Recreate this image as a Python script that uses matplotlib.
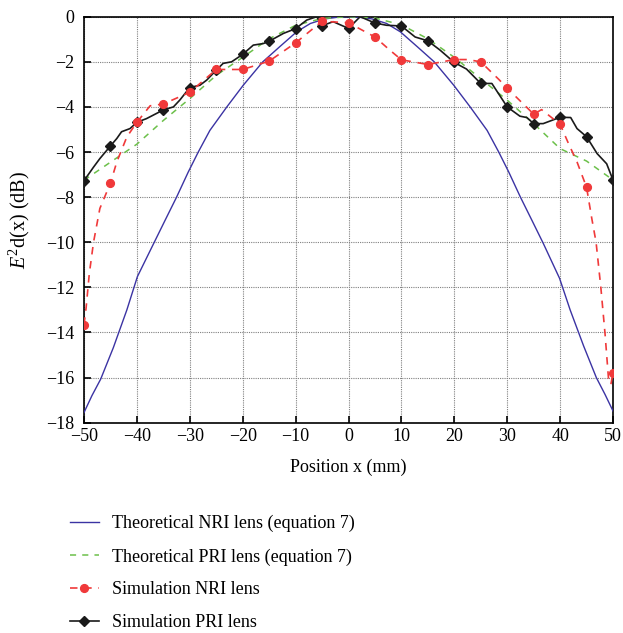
import matplotlib
matplotlib.use('Agg')
import numpy as np
import matplotlib.pyplot as plt

plt.rcParams['font.family'] = ['Liberation Serif', 'DejaVu Serif']
plt.rcParams['mathtext.fontset'] = 'custom'
plt.rcParams['mathtext.rm'] = 'Liberation Serif'
plt.rcParams['mathtext.it'] = 'Liberation Serif:italic'

# theoretical NRI lens (blue)
nri_theo_x = [-50, -48.5, -46.85, -44.45, -41.9, -39.9, -36.8, -34.7, -32.5, -30.3, -28.4, -26.2,
              -23.0, -19.9, -16.2, -13.0, -9.8, -7.2, -4.5, -2, 0, 2, 4.5, 7.2, 9.8, 13.0, 16.2,
              19.9, 23.0, 26.2, 28.4, 30.3, 32.5, 34.7, 36.8, 39.9, 41.9, 44.45, 46.85, 48.5, 50]
nri_theo_y = [-17.55, -16.8, -16.07, -14.67, -13.0, -11.52, -10.04, -9.04, -8.0, -6.89, -6.0, -5.04,
              -4.0, -3.04, -2.0, -1.33, -0.67, -0.3, -0.1, -0.02, 0.0, -0.02, -0.1, -0.3, -0.67,
              -1.33, -2.0, -3.04, -4.0, -5.04, -6.0, -6.89, -8.0, -9.04, -10.04, -11.6, -13.0,
              -14.6, -16.0, -16.75, -17.48]

# theoretical PRI lens (green)
pri_theo_x = [-50, -45, -40, -35, -30, -25, -20, -15, -10, -5, 0, 5, 10, 15, 20, 25, 30, 35, 40, 45, 50]
pri_theo_y = [-7.25, -6.45, -5.65, -4.6, -3.63, -2.6, -1.8, -0.98, -0.38, -0.08, 0.0, -0.06, -0.36,
              -0.98, -1.8, -2.75, -3.7, -4.74, -5.85, -6.4, -7.24]

# simulation NRI lens (red): markers and dashed curve
pos_x = [-50, -45, -40, -35, -30, -25, -20, -15, -10, -5, 0, 5, 10, 15, 20, 25, 30, 35, 40, 45, 50]
nri_sim_y = [-13.66, -7.38, -4.68, -3.87, -3.35, -2.34, -2.34, -1.97, -1.16, -0.2, -0.27, -0.9,
             -1.91, -2.12, -1.9, -2.0, -3.17, -4.32, -4.77, -7.56, -15.8]
nri_curve_x = [-50, -49.6, -49.0, -48.2, -47.0, -45, -43.8, -41.9, -40, -37.5, -35, -30, -25, -20,
               -15, -10, -5, 0, 5, 7.8, 10, 15, 20, 22.5, 25, 28.5, 30, 35, 36.5, 40, 41.6, 43.2, 45,
               46.0, 46.8, 47.7, 48.5, 49.2, 49.6, 50]
nri_curve_y = [-13.66, -12.9, -11.4, -10.0, -8.5, -7.38, -6.44, -5.33, -4.68, -3.95, -3.87, -3.35,
               -2.34, -2.34, -1.97, -1.16, -0.2, -0.27, -0.9, -1.48, -1.91, -2.12, -1.9, -1.9, -2.0,
               -2.8, -3.17, -4.32, -4.12, -4.77, -5.63, -6.44, -7.56, -8.96, -10.0, -12.0, -14.07,
               -16.2, -16.3, -15.8]

# simulation PRI lens (black): markers and curve
pri_sim_y = [-7.27, -5.73, -4.68, -4.13, -3.14, -2.37, -1.67, -1.09, -0.53, -0.4, -0.52, -0.28,
             -0.41, -1.07, -2.03, -2.96, -4.0, -4.74, -4.46, -5.32, -7.24]
pri_curve_x = [-50, -48.2, -47.0, -45, -43.8, -42.9, -41.3, -40, -38.2, -36.3, -35, -33.1, -31.9,
               -30, -28.1, -26.8, -25, -23.7, -22.1, -20, -18.0, -16.1, -15, -12.3, -10, -7.9, -6.0,
               -5, -2.9, 0, 2.2, 5, 7.2, 10, 12.6, 15, 17.3, 20, 22.3, 25, 27.1, 30, 32.4, 33.7, 35,
               36.8, 40, 42.0, 43.2, 45, 47.0, 48.8, 50]
pri_curve_y = [-7.27, -6.67, -6.29, -5.73, -5.4, -5.1, -4.96, -4.68, -4.52, -4.29, -4.13, -4.0, -3.7,
               -3.14, -3.04, -2.81, -2.37, -2.07, -2.0, -1.67, -1.26, -1.19, -1.09, -0.74, -0.53,
               -0.15, 0.0, -0.4, -0.22, -0.52, 0.0, -0.28, -0.38, -0.41, -0.9, -1.07, -1.48, -2.03,
               -2.32, -2.96, -2.96, -4.0, -4.41, -4.47, -4.74, -4.74, -4.46, -4.47, -4.96, -5.32,
               -6.07, -6.52, -7.24]

FS = 13
RED = '#f0393a'
BLACK = '#1a1a1a'

fig = plt.figure(figsize=(6.23, 6.33), dpi=100)
ax = fig.add_axes([84 / 623, 1 - 422.7 / 633, 529 / 623, 406 / 633])

blue, = ax.plot(nri_theo_x, nri_theo_y, color='#3b33a3', lw=1.0, zorder=3)
green, = ax.plot(pri_theo_x, pri_theo_y, color='#6cc04a', lw=1.1, ls=(0, (4, 4)), zorder=3)
ax.plot(pri_curve_x, pri_curve_y, color=BLACK, lw=1.2, zorder=4)
ax.plot(pos_x, pri_sim_y, ls='none', marker='D', ms=5, color=BLACK, zorder=5)
ax.plot(nri_curve_x, nri_curve_y, color=RED, lw=1.2, ls=(0, (4.5, 4)), zorder=6)
ax.plot(pos_x, nri_sim_y, ls='none', marker='o', ms=5.6, color=RED, zorder=7)

# legend proxies
red_h, = ax.plot([], [], color=RED, lw=1.2, ls=(0, (4.5, 4)), marker='o', ms=5.6)
black_h, = ax.plot([], [], color=BLACK, lw=1.2, marker='D', ms=5)

ax.set_xlim(-50, 50)
ax.set_ylim(-18, 0)
ax.set_xticks(np.arange(-50, 51, 10))
ax.set_yticks(np.arange(-18, 1, 2))
ax.grid(True, color='0.5', ls=(0, (1, 1)), lw=0.8)
ax.tick_params(direction='in', length=5, width=1.2, labelsize=FS)
ax.tick_params(axis='y', pad=7)
ax.tick_params(axis='x', pad=4)
for s in ax.spines.values():
    s.set_linewidth(1.2)

ax.set_xlabel('Position x (mm)', fontsize=FS, labelpad=10)
ax.set_ylabel(r'$E^2$d(x) (dB)', fontsize=14.5)
ax.yaxis.set_label_coords(-0.098, 0.5)

fig.legend([blue, green, red_h, black_h],
           ['Theoretical NRI lens (equation 7)', 'Theoretical PRI lens (equation 7)',
            'Simulation NRI lens', 'Simulation PRI lens'],
           loc='upper left', bbox_to_anchor=(70 / 623, 1 - 515 / 633), frameon=False,
           fontsize=FS, handlelength=1.6, handletextpad=0.7, labelspacing=0.88,
           borderpad=0, borderaxespad=0)

plt.savefig('out.png', dpi=100)
